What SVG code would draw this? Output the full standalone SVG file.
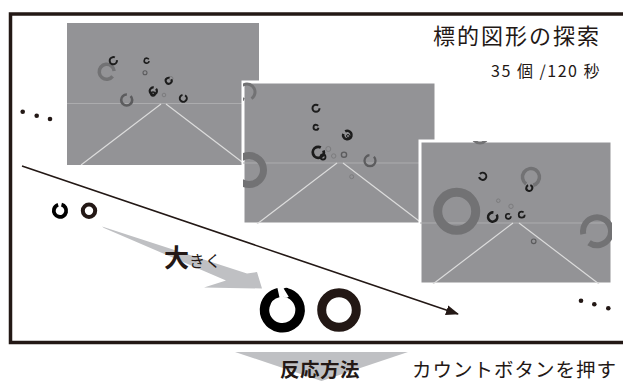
<svg xmlns="http://www.w3.org/2000/svg" width="623" height="381" viewBox="0 0 623 381">
  <style>
    .jp { font-family: "Noto Sans CJK JP", "Noto Sans", sans-serif; fill: #231815; }
    .scr { fill: #939396; }
    .scr-b { fill: #939396; stroke: #ffffff; stroke-width: 3; }
    .horizon { stroke: #acacae; stroke-width: 1; fill: none; }
    .persp { stroke: #dcdcdc; stroke-width: 1.2; fill: none; }
    .ring { fill: none; }
    .k { stroke: #1c1c1c; }
    .g1 { stroke: #727274; }
    .g2 { stroke: #5c5c5e; }
    .g3 { stroke: #7c7c7e; }
    .dot { fill: #231815; }
  </style>
  <defs>
    <clipPath id="clip1"><rect x="67" y="23" width="192" height="142"/></clipPath>
    <clipPath id="clip2"><rect x="243" y="82" width="193" height="142"/></clipPath>
    <clipPath id="clip3"><rect x="420" y="141" width="192" height="143"/></clipPath>
    <marker id="head" markerWidth="13" markerHeight="10" refX="12" refY="5" orient="auto" markerUnits="userSpaceOnUse" viewBox="0 0 13 10">
      <path d="M0,0 L13,5 L0,10 Z" fill="#231815"/>
    </marker>
  </defs>

  <!-- outer frame -->
  <rect id="frame" x="10.5" y="14" width="625" height="328.5" fill="none" stroke="#231815" stroke-width="3.5"/>

  <!-- search screen 1 -->
  <g id="screen1">
    <rect class="scr" x="67" y="23" width="192" height="142"/>
    <g clip-path="url(#clip1)">
      <line class="horizon" x1="67" y1="103.5" x2="259" y2="103.5"/>
      <line class="persp" x1="81" y1="165" x2="161" y2="104"/>
      <line class="persp" x1="166" y1="104" x2="246" y2="165"/>
      <circle class="ring g1" cx="106.7" cy="71.7" r="7.5" stroke-width="3.5" pathLength="100" stroke-dasharray="88 12" transform="rotate(38 106.7 71.7)"/>
      <circle class="ring k" cx="113.3" cy="60.7" r="3.6" stroke-width="2" pathLength="100" stroke-dasharray="85 15" transform="rotate(-10 113.3 60.7)"/>
      <circle class="ring k" cx="146.7" cy="60.7" r="2.5" stroke-width="1.6" pathLength="100" stroke-dasharray="88 12" transform="rotate(10 146.7 60.7)"/>
      <circle class="ring g2" cx="145" cy="72.7" r="2" stroke-width="1.1"/>
      <circle class="ring g3" cx="171" cy="78.5" r="2" stroke-width="1"/>
      <circle class="ring k" cx="168.7" cy="80.7" r="3" stroke-width="2" pathLength="100" stroke-dasharray="88 12" transform="rotate(-30 168.7 80.7)"/>
      <circle class="ring k" cx="153.3" cy="91" r="3.6" stroke-width="2.2" pathLength="100" stroke-dasharray="88 12" transform="rotate(-40 153.3 91)"/>
      <circle class="ring k" cx="153" cy="94" r="2" stroke-width="1.6"/>
      <circle class="ring g3" cx="164" cy="95" r="1.8" stroke-width="1"/>
      <circle class="ring g2" cx="126.7" cy="100" r="5.5" stroke-width="2.6" pathLength="100" stroke-dasharray="88 12" transform="rotate(-45 126.7 100)"/>
      <circle class="ring k" cx="183.3" cy="98.3" r="3.5" stroke-width="2" pathLength="100" stroke-dasharray="88 12" transform="rotate(-60 183.3 98.3)"/>
    </g>
  </g>

  <!-- search screen 2 -->
  <g id="screen2">
    <rect class="scr-b" x="243" y="82" width="193" height="142"/>
    <g clip-path="url(#clip2)">
      <line class="horizon" x1="243" y1="163" x2="436" y2="163"/>
      <line class="persp" x1="257" y1="224" x2="337" y2="163"/>
      <line class="persp" x1="343" y1="163" x2="423" y2="224"/>
      <circle class="ring g1" cx="247" cy="92" r="8" stroke-width="3" pathLength="100" stroke-dasharray="85 15" transform="rotate(110 247 92)"/>
      <circle class="ring g1" cx="249" cy="170" r="14.5" stroke-width="7"/>
      <circle class="ring k" cx="316" cy="108.3" r="3.5" stroke-width="2" pathLength="100" stroke-dasharray="86 14" transform="rotate(0 316 108.3)"/>
      <circle class="ring k" cx="316" cy="127.3" r="2.5" stroke-width="1.8" pathLength="100" stroke-dasharray="88 12" transform="rotate(10 316 127.3)"/>
      <circle class="ring k" cx="347.3" cy="135" r="4.2" stroke-width="2.6" pathLength="100" stroke-dasharray="88 12" transform="rotate(-120 347.3 135)"/>
      <circle class="ring k" cx="348" cy="136" r="1.5" stroke-width="1"/>
      <circle class="ring g3" cx="328.3" cy="149" r="2.5" stroke-width="1"/>
      <circle class="ring k" cx="318.3" cy="152.3" r="5.5" stroke-width="2.8" pathLength="100" stroke-dasharray="88 12" transform="rotate(-20 318.3 152.3)"/>
      <circle class="ring k" cx="323" cy="157" r="2.5" stroke-width="1.8"/>
      <circle class="ring g3" cx="333.7" cy="156" r="2.2" stroke-width="1"/>
      <circle class="ring g2" cx="344" cy="154.7" r="2.6" stroke-width="1.4"/>
      <circle class="ring g2" cx="370" cy="160.7" r="5.5" stroke-width="2.3" pathLength="100" stroke-dasharray="86 14" transform="rotate(-45 370 160.7)"/>
      <circle class="ring g3" cx="351.7" cy="176.7" r="2" stroke-width="1"/>
    </g>
  </g>

  <!-- search screen 3 -->
  <g id="screen3">
    <rect class="scr-b" x="420" y="141" width="192" height="143"/>
    <g clip-path="url(#clip3)">
      <line class="horizon" x1="420" y1="223" x2="612" y2="223"/>
      <line class="persp" x1="433" y1="284" x2="513" y2="223"/>
      <line class="persp" x1="519" y1="223" x2="599" y2="284"/>
      <circle class="ring g1" cx="480" cy="135" r="8" stroke-width="3"/>
      <circle class="ring k" cx="482.7" cy="176.3" r="3.6" stroke-width="2" pathLength="100" stroke-dasharray="86 14" transform="rotate(-140 482.7 176.3)"/>
      <circle class="ring g1" cx="531" cy="177" r="8.5" stroke-width="3.5" pathLength="100" stroke-dasharray="86 14" transform="rotate(125 531 177)"/>
      <circle class="ring k" cx="529.3" cy="188" r="3" stroke-width="2" pathLength="100" stroke-dasharray="88 12" transform="rotate(-70 529.3 188)"/>
      <circle class="ring g1" cx="456.7" cy="211.3" r="19" stroke-width="9"/>
      <circle class="ring g3" cx="498.3" cy="200.7" r="1.8" stroke-width="1"/>
      <circle class="ring g3" cx="511" cy="206.3" r="2.2" stroke-width="1"/>
      <circle class="ring k" cx="492.7" cy="217" r="4.6" stroke-width="2.6" pathLength="100" stroke-dasharray="86 14" transform="rotate(-30 492.7 217)"/>
      <circle class="ring k" cx="508.3" cy="216.3" r="2.6" stroke-width="1.6" pathLength="100" stroke-dasharray="86 14" transform="rotate(0 508.3 216.3)"/>
      <circle class="ring k" cx="521.7" cy="214.7" r="3" stroke-width="1.7" pathLength="100" stroke-dasharray="86 14" transform="rotate(0 521.7 214.7)"/>
      <circle class="ring g1" cx="597" cy="231.3" r="14" stroke-width="6" pathLength="100" stroke-dasharray="88 12" transform="rotate(168 597 231.3)"/>
      <circle class="ring g2" cx="533.7" cy="241.3" r="2.3" stroke-width="1.2"/>
    </g>
  </g>

  <!-- ellipsis dots -->
  <g id="dots-left">
    <circle class="dot" cx="22.7" cy="111.7" r="2.3"/>
    <circle class="dot" cx="36.7" cy="115.7" r="2.3"/>
    <circle class="dot" cx="50" cy="119" r="2.3"/>
  </g>
  <g id="dots-right">
    <circle class="dot" cx="581" cy="300.7" r="2.3"/>
    <circle class="dot" cx="594.3" cy="304.3" r="2.3"/>
    <circle class="dot" cx="608.3" cy="308.3" r="2.3"/>
  </g>

  <!-- connectors -->
  <g id="connectors">
    <line x1="22" y1="166" x2="458" y2="314" stroke="#231815" stroke-width="1.6" marker-end="url(#head)"/>
    <polygon points="102,226.5 247,273.5 257,272 262,288.5 204,287.5 226,280.5 104,228" fill="#bfc0c3"/>
    <polygon points="235,352 408,352 321.5,381" fill="#bfc0c3"/>
  </g>

  <!-- title -->
  <g id="title">
    <text class="jp" x="601" y="44" font-size="22" letter-spacing="2" text-anchor="end" fill="#3a3a3a">標的図形の探索</text>
    <text class="jp" x="601" y="76.5" font-size="16" letter-spacing="1.5" text-anchor="end" fill="#3a3a3a">35 個 /120 秒</text>
  </g>

  <!-- small target pair -->
  <g id="small-targets">
    <circle class="ring" cx="60" cy="210.7" r="6.2" stroke="#000" stroke-width="3.8" pathLength="100" stroke-dasharray="91 9" transform="rotate(-76 60 210.7)"/>
    <circle class="ring" cx="89" cy="210.7" r="6.2" stroke="#231815" stroke-width="4"/>
  </g>

  <!-- enlarge label -->
  <g id="enlarge-label">
    <text class="jp" x="164" y="267" font-size="25" font-weight="bold"><tspan>大</tspan><tspan font-size="16" font-weight="normal">きく</tspan></text>
  </g>

  <!-- large target pair -->
  <g id="large-targets">
    <circle class="ring" cx="282.3" cy="310" r="17.8" stroke="#000" stroke-width="9.5" pathLength="100" stroke-dasharray="93 7" transform="rotate(-77.4 282.3 310)"/>
    <circle class="ring" cx="339" cy="310" r="17.3" stroke="#231815" stroke-width="9"/>
  </g>

  <!-- response method -->
  <g id="response">
    <text class="jp" x="280" y="376.5" font-size="19.5" font-weight="bold" letter-spacing="0.5">反応方法</text>
    <text class="jp" x="412" y="376.5" font-size="19.5" letter-spacing="1">カウントボタンを押す</text>
  </g>
</svg>
